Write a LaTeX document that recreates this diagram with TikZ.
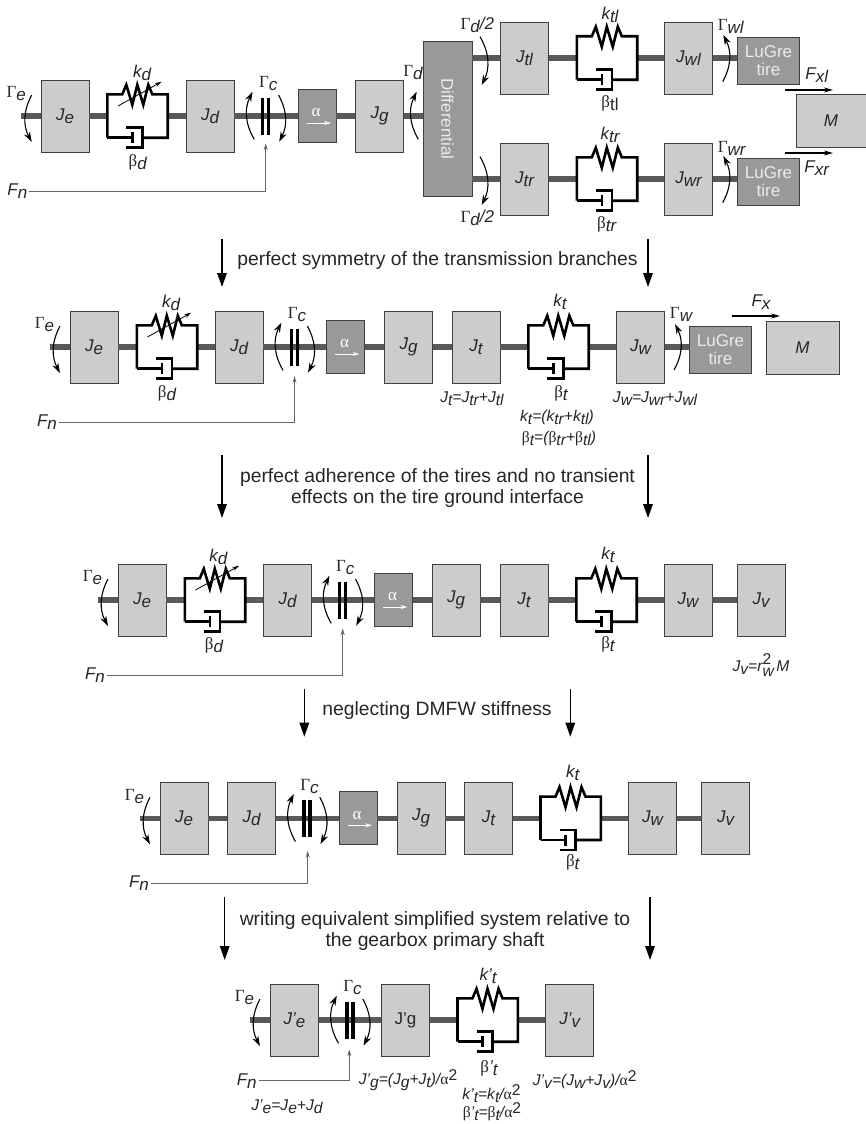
\documentclass[tikz,border=0pt]{standalone}
\usepackage{fontspec}
\setmainfont{Liberation Sans}
\newfontfamily\symb{Liberation Serif}
\usetikzlibrary{arrows.meta}

% lowered index in the same size
\newcommand{\idx}[2]{{\itshape #1\raisebox{-3pt}{#2}}}
\newcommand{\gam}[1]{{\symb Γ}\raisebox{-3pt}{\itshape #1}}
\newcommand{\bet}{{\upshape\symb β}}
\newcommand{\alp}{{\upshape\symb α}}
\newcommand{\pr}{\char39 }
\newcommand{\sq}{\raisebox{4pt}{\upshape 2}}
\newcommand{\lbl}{\fontsize{17}{19}\selectfont}

\tikzset{
  inertia/.style={draw=black!75,fill=black!20,line width=0.8pt,minimum width=48pt,minimum height=72pt},
  gearbox/.style={draw=black!75,fill=black!40,line width=0.8pt,minimum width=38pt,minimum height=53pt},
  tire/.style={draw=black!75,fill=black!40,line width=0.8pt,minimum width=62pt,minimum height=47pt,text=black!8,align=center},
  mass/.style={draw=black!75,fill=black!20,line width=0.8pt,minimum width=70pt,minimum height=53pt},
  sdbox/.style={minimum width=60pt,minimum height=43pt},
  shaft/.style={draw=black!65,line width=5.6pt},
  rod/.style={line width=2.6pt,line join=miter},
  plate/.style={fill=black,minimum width=3.3pt,minimum height=37pt},
  torque/.style={line width=1.1pt,-{Stealth[length=10pt,width=6.5pt]}},
  feed/.style={draw=black!60,line width=0.8pt,-{Stealth[length=7pt,width=4pt]}},
  force/.style={line width=1.1pt,-{Stealth[length=9pt,width=5pt]}},
  bigarrow/.style={line width=1.4pt,-{Triangle[length=14pt,width=9.5pt]}},
  caption/.style={font=\fontsize{19.3}{21}\selectfont,align=center,text=black!85},
  formula/.style={font=\fontsize{15.6}{17}\selectfont\itshape}
}

\newcommand{\springdamper}[1]{%
\draw[rod] (#1.south west) -- (#1.north west) -- ++(15,0) -- ++(4,-9.5) -- ++(6,20) -- ++(5,-20) -- ++(6,20) -- ++(5,-20) -- ++(4,9.5) -- (#1.north east) -- (#1.south east) -- ++(-25,0);
\draw[rod] (#1.south west) -- ++(25,0);
\draw[rod] (#1.south west) ++(25,-5.5) -- ++(0,11);
\draw[rod] (#1.south west) ++(19,-10) -- ++(16,0) -- ++(0,20) -- ++(-16,0);
}
\newcommand{\varspring}[1]{%
\draw[line width=0.8pt,-{Stealth[length=7pt,width=4pt]}] (#1.center) ++(-19.5,-10) -- ++(43.7,-24.3);
}
\newcommand{\clutch}[3]{%
\node[plate] (#1-l) at (#2-2.9,#3) {};
\node[plate] (#1-r) at (#2+2.9,#3) {};
\draw[torque] (#2-11.5,#3+23.3) to[bend left=28] (#2-13.2,#3-24.3);
\draw[torque] (#2+12.8,#3-21) to[bend left=28] (#2+13.5,#3+25.7);
\node (#1-G) at (#2+2.5,#3-32) {\gam{c}};
}
\newcommand{\engine}[3]{%
\draw[torque] (#2,#3-21) to[bend right=28] (#2,#3+26);
\node (#1-G) at (#2-15.5,#3-22) {\gam{e}};
}
\newcommand{\ratio}[3]{%
\node[gearbox] (#1) at (#2,#3) {};
\node[text=white] (#1-a) at (#2-1,#3-3) {\alp};
\coordinate (#1-s) at (#2-10.5,#3+7);
\coordinate (#1-e) at (#2+14,#3+7);
\draw[white,line width=0.8pt,-{Stealth[length=7pt,width=4pt]}] (#1-s) -- (#1-e);
}

\begin{document}
\begin{tikzpicture}[x=1pt,y=-1pt,every node/.style={font=\lbl,inner sep=0pt,text=black!85}]
\path[use as bounding box,fill=white] (0,0) rectangle (866,1124);

% full model
\coordinate (sa) at (21,116);
\node[inertia] (Jea) at (65,116) {\idx{J}{e}};
\node[sdbox] (sda) at (137.5,116) {};
\node[inertia] (Jda) at (210,116) {\idx{J}{d}};
\ratio{ala}{317}{116}
\node[inertia] (Jga) at (379.5,116) {\idx{J}{g}};
\node[draw=black!75,fill=black!40,line width=0.8pt,minimum width=155pt,minimum height=49pt,rotate=-90,text=black!8] (diff) at (447.5,119) {Differential};
\node[inertia] (Jtl) at (524.5,58) {\idx{J}{tl}};
\node[sdbox] (sdtl) at (607,58) {};
\node[inertia] (Jwl) at (688.5,58) {\idx{J}{wl}};
\node[tire] (tl) at (768.5,60.5) {LuGre\\[-1pt]tire};
\node[inertia] (Jtr) at (524.5,179) {\idx{J}{tr}};
\node[sdbox] (sdtr) at (607,179) {};
\node[inertia] (Jwr) at (688.5,179) {\idx{J}{wr}};
\node[tire] (tr) at (768.5,181.5) {LuGre\\[-1pt]tire};
\node[mass] (Ma) at (831,121) {\textit{M}};
\draw[shaft] (sa) -- (Jea);
\draw[shaft] (Jea) -- (sda);
\draw[shaft] (sda) -- (Jda);
\draw[shaft] (Jda) -- (ala);
\draw[shaft] (ala) -- (Jga);
\draw[shaft] (Jga) -- (Jga-|diff.south);
\draw[shaft] (Jtl-|diff.north) -- (Jtl);
\draw[shaft] (Jtl) -- (sdtl);
\draw[shaft] (sdtl) -- (Jwl);
\draw[shaft] (Jwl) -- (Jwl-|tl.west);
\draw[shaft] (Jtr-|diff.north) -- (Jtr);
\draw[shaft] (Jtr) -- (sdtr);
\draw[shaft] (sdtr) -- (Jwr);
\draw[shaft] (Jwr) -- (Jwr-|tr.west);
\springdamper{sda}
\varspring{sda}
\springdamper{sdtl}
\springdamper{sdtr}
\clutch{ca}{265.7}{116}
\engine{ea}{31.7}{116}
\draw[torque] (418.3,139.3) to[bend left=28] (416.7,91.7);
\draw[torque] (480,36.7) to[bend left=28] (481.7,85);
\draw[torque] (480,156.7) to[bend left=28] (481.7,205);
\draw[torque] (722.7,81.7) to[bend right=28] (723.3,35);
\draw[torque] (722.7,202.7) to[bend right=28] (723.3,156);
\node (kda) at (142,72.7) {\idx{k}{d}};
\node (bda) at (137.7,162.3) {\bet\idx{}{d}};
\node (Gda) at (413,73) {\gam{d}};
\node (Gdl) at (477.3,25) {\gam{d}{\itshape /2}};
\node (Gdr) at (477.3,218.3) {\gam{d}{\itshape /2}};
\node (ktl) at (610,15) {\idx{k}{tl}};
\node (btl) at (610,103.3) {\bet\raisebox{-3pt}{tl}};
\node (ktr) at (610,135) {\idx{k}{tr}};
\node (btr) at (606.7,224) {\bet\idx{}{tr}};
\node (Gwl) at (730.7,26) {\gam{wl}};
\node (Gwr) at (731.7,148.3) {\gam{wr}};
\node (Fxl) at (816.7,75) {\idx{F}{xl}};
\node (Fxr) at (816.7,167.7) {\idx{F}{xr}};
\coordinate (fxl1) at (785,90);
\coordinate (fxl2) at (833,90);
\coordinate (fxr1) at (785,153);
\coordinate (fxr2) at (833,153);
\draw[force] (fxl1) -- (fxl2);
\draw[force] (fxr1) -- (fxr2);
\node (Fna) at (17.3,191.3) {\idx{F}{n}};
\coordinate (cpa) at (265.7,143.3);
\draw[feed] (Fna.east) ++(2,0) -| (cpa);

% first step
\coordinate (aa1) at (222,239);
\coordinate (aa2) at (222,287);
\coordinate (ab1) at (648,239);
\coordinate (ab2) at (648,287);
\draw[bigarrow] (aa1) -- (aa2);
\draw[bigarrow] (ab1) -- (ab2);
\node[caption] (capa) at (437.5,261) {perfect symmetry of the transmission branches};

% symmetric model
\coordinate (sb) at (50,347);
\node[inertia] (Jeb) at (94,347) {\idx{J}{e}};
\node[sdbox] (sdb) at (167,347) {};
\node[inertia] (Jdb) at (239,347) {\idx{J}{d}};
\ratio{alb}{345.5}{347}
\node[inertia] (Jgb) at (408.5,347) {\idx{J}{g}};
\node[inertia] (Jtb) at (476,347) {\idx{J}{t}};
\node[sdbox] (sdtb) at (558.5,347) {};
\node[inertia] (Jwb) at (640.5,347) {\idx{J}{w}};
\node[tire] (tb) at (720.5,350) {LuGre\\[-1pt]tire};
\node[mass,minimum width=73pt] (Mb) at (802.5,347.5) {\textit{M}};
\draw[shaft] (sb) -- (Jeb);
\draw[shaft] (Jeb) -- (sdb);
\draw[shaft] (sdb) -- (Jdb);
\draw[shaft] (Jdb) -- (alb);
\draw[shaft] (alb) -- (Jgb);
\draw[shaft] (Jgb) -- (Jtb);
\draw[shaft] (Jtb) -- (sdtb);
\draw[shaft] (sdtb) -- (Jwb);
\draw[shaft] (Jwb) -- (Jwb-|tb.west);
\springdamper{sdb}
\varspring{sdb}
\springdamper{sdtb}
\clutch{cb}{294.5}{347}
\engine{eb}{60}{347}
\draw[torque] (674,370) to[bend right=28] (675,324);
\node (kdb) at (171,303) {\idx{k}{d}};
\node (bdb) at (167,393) {\bet\idx{}{d}};
\node (ktb) at (560,302) {\idx{k}{t}};
\node (btb) at (561,393) {\bet\idx{}{t}};
\node (Gwb) at (681,314) {\gam{w}};
\node (Fxb) at (761,302) {\idx{F}{x}};
\coordinate (fxb1) at (732,316);
\coordinate (fxb2) at (780,316);
\draw[force] (fxb1) -- (fxb2);
\node[formula] (eqb1) at (472,399) {\idx{J}{t}=\idx{J}{tr}+\idx{J}{tl}};
\node[formula] (eqb2) at (655,399) {\idx{J}{w}=\idx{J}{wr}+\idx{J}{wl}};
\node[formula] (eqb3) at (557,417) {\idx{k}{t}=(\idx{k}{tr}+\idx{k}{tl})};
\node[formula] (eqb4) at (559,439) {\bet\idx{}{t}=(\bet\idx{}{tr}+\bet\idx{}{tl})};
\node (Fnb) at (47,422) {\idx{F}{n}};
\coordinate (cpb) at (294.5,376);
\draw[feed] (Fnb.east) ++(2,0) -| (cpb);

% second step
\coordinate (ba1) at (222,455);
\coordinate (ba2) at (222,518);
\coordinate (bb1) at (648,455);
\coordinate (bb2) at (648,518);
\draw[bigarrow] (ba1) -- (ba2);
\draw[bigarrow] (bb1) -- (bb2);
\node[caption] (capb) at (437.5,488.5) {perfect adherence of the tires and no transient\\effects on the tire ground interface};

% rigid tires
\coordinate (sc) at (98,600);
\node[inertia] (Jec) at (142,600) {\idx{J}{e}};
\node[sdbox] (sdc) at (215,600) {};
\node[inertia] (Jdc) at (287.5,600) {\idx{J}{d}};
\ratio{alc}{393.5}{600}
\node[inertia] (Jgc) at (456,600) {\idx{J}{g}};
\node[inertia] (Jtc) at (524,600) {\idx{J}{t}};
\node[sdbox] (sdtc) at (606.5,600) {};
\node[inertia] (Jwc) at (688,600) {\idx{J}{w}};
\node[inertia] (Jvc) at (761,600) {\idx{J}{v}};
\draw[shaft] (sc) -- (Jec);
\draw[shaft] (Jec) -- (sdc);
\draw[shaft] (sdc) -- (Jdc);
\draw[shaft] (Jdc) -- (alc);
\draw[shaft] (alc) -- (Jgc);
\draw[shaft] (Jgc) -- (Jtc);
\draw[shaft] (Jtc) -- (sdtc);
\draw[shaft] (sdtc) -- (Jwc);
\draw[shaft] (Jwc) -- (Jvc);
\springdamper{sdc}
\varspring{sdc}
\springdamper{sdtc}
\clutch{cc}{342.7}{600}
\engine{ec}{108}{600}
\node (kdc) at (218.3,556.7) {\idx{k}{d}};
\node (bdc) at (214,645) {\bet\idx{}{d}};
\node (ktc) at (608,555) {\idx{k}{t}};
\node (btc) at (608,644) {\bet\idx{}{t}};
\node[formula] (eqc) at (761,665) {\idx{J}{v}=r\rlap{\raisebox{7pt}{\upshape 2}}\raisebox{-5pt}{w}\,M};
\node (Fnc) at (95,675) {\idx{F}{n}};
\coordinate (cpc) at (342.7,628.3);
\draw[feed] (Fnc.east) ++(2,0) -| (cpc);

% third step
\coordinate (ca1) at (304.3,689);
\coordinate (ca2) at (304.3,736.7);
\coordinate (cb1) at (570.3,689);
\coordinate (cb2) at (570.3,736.7);
\draw[bigarrow] (ca1) -- (ca2);
\draw[bigarrow] (cb1) -- (cb2);
\node[caption] (capc) at (437,710.7) {neglecting DMFW stiffness};

% no flywheel stiffness
\coordinate (sd) at (140,818.3);
\node[inertia] (Jed) at (184,818.3) {\idx{J}{e}};
\node[inertia] (Jdd) at (251.5,818.3) {\idx{J}{d}};
\ratio{ald}{358}{818.3}
\node[inertia] (Jgd) at (421,818.3) {\idx{J}{g}};
\node[inertia] (Jtd) at (488.5,818.3) {\idx{J}{t}};
\node[sdbox] (sdtd) at (570.7,818.3) {};
\node[inertia] (Jwd) at (652.5,818.3) {\idx{J}{w}};
\node[inertia] (Jvd) at (725.5,818.3) {\idx{J}{v}};
\draw[shaft] (sd) -- (Jed);
\draw[shaft] (Jed) -- (Jdd);
\draw[shaft] (Jdd) -- (ald);
\draw[shaft] (ald) -- (Jgd);
\draw[shaft] (Jgd) -- (Jtd);
\draw[shaft] (Jtd) -- (sdtd);
\draw[shaft] (sdtd) -- (Jwd);
\draw[shaft] (Jwd) -- (Jvd);
\springdamper{sdtd}
\clutch{cd}{307}{818.3}
\engine{ed}{150}{818.3}
\node (ktd) at (572.7,772.7) {\idx{k}{t}};
\node (btd) at (572.7,862.7) {\bet\idx{}{t}};
\node (Fnd) at (139,883.3) {\idx{F}{n}};
\coordinate (cpd) at (307.7,850.7);
\draw[feed] (Fnd.east) ++(2,0) -| (cpd);

% last step
\coordinate (da1) at (224.7,897.3);
\coordinate (da2) at (224.7,960);
\coordinate (db1) at (650,897.3);
\coordinate (db2) at (650,960);
\draw[bigarrow] (da1) -- (da2);
\draw[bigarrow] (db1) -- (db2);
\node[caption] (capd) at (435,931) {writing equivalent simplified system relative to\\the gearbox primary shaft};

% reduced model
\coordinate (se) at (250,1020);
\node[inertia] (Jee) at (294.5,1020) {\idx{J\pr}{e}};
\node[inertia] (Jge) at (405.5,1020) {{\upshape J\pr g}};
\node[sdbox] (sde) at (487.7,1020) {};
\node[inertia] (Jve) at (569.7,1020) {\idx{J\pr}{v}};
\draw[shaft] (se) -- (Jee);
\draw[shaft] (Jee) -- (Jge);
\draw[shaft] (Jge) -- (sde);
\draw[shaft] (sde) -- (Jve);
\springdamper{sde}
\clutch{ce}{350}{1020}
\engine{ee}{260}{1020}
\node (kte) at (488,975.7) {\idx{k\pr}{t}};
\node (bte) at (489,1068) {\bet\idx{\pr}{t}};
\node (Fne) at (246.7,1080.7) {\idx{F}{n}};
\coordinate (cpe) at (349.3,1049.3);
\draw[feed] (Fne.east) ++(2,0) -| (cpe);
\node[formula] (eqe1) at (408,1080) {\idx{J\pr}{g}=(\idx{J}{g}+\idx{J}{t})/\alp\sq};
\node[formula] (eqe2) at (584.7,1080) {\idx{J\pr}{v}=(\idx{J}{w}+\idx{J}{v})/\alp\sq};
\node[formula] (eqe3) at (287,1106.7) {\idx{J\pr}{e}=\idx{J}{e}+\idx{J}{d}};
\node[formula] (eqe4) at (491.5,1093.3) {\idx{k\pr}{t}=\idx{k}{t}/\alp\sq};
\node[formula] (eqe5) at (492,1111.7) {\bet\idx{\pr}{t}=\bet\idx{}{t}/\alp\sq};
\end{tikzpicture}
\end{document}
